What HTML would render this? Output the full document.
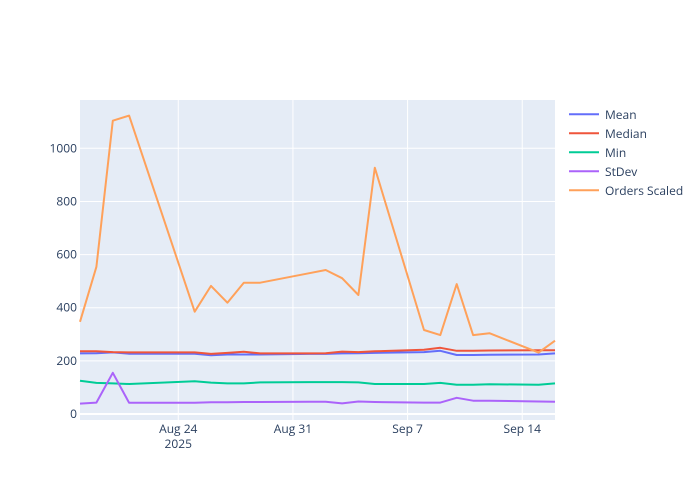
<!DOCTYPE html>
<html><head><meta charset="utf-8"><style>
body{margin:0;background:#fff;}
svg{display:block;font-family:"Open Sans","Liberation Sans",sans-serif;}
</style></head><body>
<svg id="chart" width="700" height="500"></svg>
<script>
const dates=["2025-08-18","2025-08-19","2025-08-20","2025-08-21","2025-08-25","2025-08-26","2025-08-27","2025-08-28","2025-08-29","2025-09-01","2025-09-02","2025-09-03","2025-09-04","2025-09-05","2025-09-08","2025-09-09","2025-09-10","2025-09-11","2025-09-12","2025-09-15","2025-09-16"];
const meanVals=[228,229,232,227,227,221,224,224,224,226,226,228,229,230,233,238,222,222,223,224,228];
const medianVals=[236,236,233,232,232,226,230,234,228,228,229,235,233,236,242,249,238,238,239,240,240];
const minVals=[125,117,115,113,123,118,115,115,119,120,120,120,119,113,113,117,110,110,112,110,115];
const stdevVals=[39,43,155,42,42,44,44,45,45,46,46,40,47,45,43,43,61,50,50,47,46];
const ordersVals=[347,554,1104,1123,385,482,419,494,494,530,542,511,448,927,316,297,489,297,304,231,276];
const yTicks=[0,200,400,600,800,1000];
const xTicks=["2025-08-24","2025-08-31","2025-09-07","2025-09-14"];
const xTickLabels=["Aug 24","Aug 31","Sep 7","Sep 14"];
const seriesNames=["Mean","Median","Min","StDev","Orders Scaled"];
const seriesColors=["#636efa","#EF553B","#00cc96","#ab63fa","#FFA15A"];
const seriesData=[meanVals,medianVals,minVals,stdevVals,ordersVals];

const NS="http://www.w3.org/2000/svg";
const svg=document.getElementById('chart');
const L=80,R=555,T=100,B=420;
const t0=Date.parse("2025-08-18"),t1=Date.parse("2025-09-16");
const yMin=-22.6,yMax=1181.8;
function xs(d){return L+(Date.parse(d)-t0)/(t1-t0)*(R-L);}
function ys(v){return B-(v-yMin)/(yMax-yMin)*(B-T);}
function mk(tag,attrs){const e=document.createElementNS(NS,tag);for(const k in attrs)e.setAttribute(k,attrs[k]);svg.appendChild(e);return e;}

const bg=mk('rect',{x:L,y:T,width:R-L,height:B-T,fill:'#E5ECF6'});



xTicks.forEach((d,i)=>{
  const x=xs(d);
  const g=mk('line',{x1:x,x2:x,y1:T,y2:B,stroke:'#fff','stroke-width':1});
  
  
  const t=mk('text',{x:x,y:433,'text-anchor':'middle','font-size':12,fill:'#2a3f5f'});
  t.textContent=xTickLabels[i];
  
  
});
const yr=mk('text',{x:xs(xTicks[0]),y:448,'text-anchor':'middle','font-size':12,fill:'#2a3f5f'});
yr.textContent="2025";



yTicks.forEach(v=>{
  const y=ys(v);
  const g=mk('line',{x1:L,x2:R,y1:y,y2:y,stroke:'#fff','stroke-width':v===0?2:1});
  
  
  const t=mk('text',{x:L-3,y:y+4,'text-anchor':'end','font-size':12,fill:'#2a3f5f'});
  t.textContent=String(v);
  
  
});

seriesData.forEach((vals,si)=>{
  const pts=vals.map((v,i)=>xs(dates[i]).toFixed(1)+','+ys(v).toFixed(1)).join(' ');
  const p=mk('polyline',{points:pts,fill:'none',stroke:seriesColors[si],'stroke-width':2,'stroke-linejoin':'round'});
  
  
});

seriesNames.forEach((n,i)=>{
  const y=114.3+i*19;
  const l=mk('line',{x1:569,x2:599,y1:y,y2:y,stroke:seriesColors[i],'stroke-width':2});
  
  
  const t=mk('text',{x:605,y:y+4.5,'font-size':12,fill:'#2a3f5f'});
  t.textContent=n;
  
  
});
</script>
</body></html>
